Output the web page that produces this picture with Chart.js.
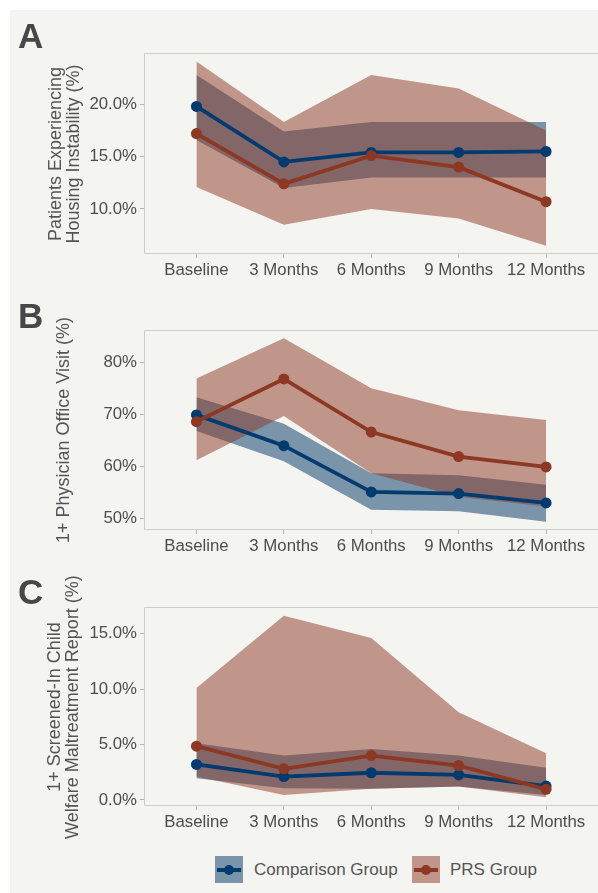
<!DOCTYPE html>
<html>
<head>
<meta charset="utf-8">
<script src="https://cdn.jsdelivr.net/npm/chart.js@4.4.1/dist/chart.umd.min.js"></script>
<style>
  html, body { margin:0; padding:0; width:598px; height:893px; overflow:hidden; background:#ffffff;
    font-family:"Liberation Sans", Arial, Helvetica, sans-serif; }
  #sheet { position:absolute; left:10px; top:10px; width:588px; height:883px; background:#f4f4f1; }
  canvas { position:absolute; left:10px; }
  .tag { position:absolute; left:18px; font-weight:bold; font-size:35px; line-height:35px; color:#474747; }
  .ytitle { position:absolute; transform:translate(-50%,-50%) rotate(-90deg); white-space:nowrap;
    text-align:center; font-size:18px; line-height:18px; color:#555555; }
  .key { position:absolute; top:856px; width:28px; height:27px; }
  .key i { position:absolute; left:2px; right:2px; top:11.5px; height:4.5px; }
  .key b { position:absolute; left:9px; top:9px; width:10px; height:10px; border-radius:50%; }
  .ltxt { position:absolute; top:859px; font-size:17px; line-height:22px; color:#555555; white-space:nowrap; }
</style>
</head>
<body>
<div id="sheet"></div>

<canvas id="chartA" width="594" height="274" style="top:10px"></canvas>
<canvas id="chartB" width="594" height="273" style="top:287px"></canvas>
<canvas id="chartC" width="594" height="272" style="top:564px"></canvas>

<div class="tag" style="top:18px">A</div>
<div class="tag" style="top:298px">B</div>
<div class="tag" style="top:574px">C</div>

<div class="ytitle" style="left:63.5px; top:153.5px">Patients Experiencing<br>Housing Instability (%)</div>
<div class="ytitle" style="left:62.5px; top:430px">1+ Physician Office Visit (%)</div>
<div class="ytitle" style="left:63px; top:706.5px">1+ Screened-In Child<br>Welfare Maltreatment Report (%)</div>

<div class="key" style="left:215px; background:rgba(0,52,100,0.5)"><i style="background:#003b6f"></i><b style="background:#003b6f"></b></div>
<div class="ltxt" style="left:254px">Comparison Group</div>
<div class="key" style="left:412px; background:rgba(140,56,35,0.5)"><i style="background:#8c3823"></i><b style="background:#8c3823"></b></div>
<div class="ltxt" style="left:450px">PRS Group</div>

<script>
// Follow-up time points
const categories = ['Baseline', '3 Months', '6 Months', '9 Months', '12 Months'];

// Panel A: patients experiencing housing instability (%)
const housingComparison     = [19.8, 14.5, 15.4, 15.4, 15.5];
const housingComparisonLow  = [16.6, 12.0, 13.0, 13.0, 13.0];
const housingComparisonHigh = [22.8, 17.4, 18.3, 18.3, 18.3];
const housingPrs            = [17.2, 12.4, 15.1, 14.0, 10.7];
const housingPrsLow         = [12.1, 8.5, 10.0, 9.1, 6.5];
const housingPrsHigh        = [24.1, 18.3, 22.8, 21.5, 17.5];
const housingTicks          = [10, 15, 20];

// Panel B: 1+ physician office visit (%)
const visitComparison     = [69.9, 64.0, 55.1, 54.8, 53.0];
const visitComparisonLow  = [66.8, 61.0, 51.7, 51.4, 49.4];
const visitComparisonHigh = [73.3, 68.2, 58.7, 58.3, 56.5];
const visitPrs            = [68.6, 76.8, 66.6, 61.9, 59.9];
const visitPrsLow         = [61.2, 69.7, 58.7, 54.2, 52.3];
const visitPrsHigh        = [76.9, 84.6, 75.0, 70.8, 68.9];
const visitTicks          = [50, 60, 70, 80];

// Panel C: 1+ screened-in child welfare maltreatment report (%)
const reportComparison     = [3.2, 2.1, 2.45, 2.25, 1.25];
const reportComparisonLow  = [1.95, 1.05, 1.0, 1.2, 0.45];
const reportComparisonHigh = [5.1, 4.0, 4.6, 4.0, 2.9];
const reportPrs            = [4.85, 2.8, 4.0, 3.1, 0.95];
const reportPrsLow         = [2.1, 0.45, 1.0, 1.2, 0.25];
const reportPrsHigh        = [10.1, 16.6, 14.6, 7.9, 4.2];
const reportTicks          = [0, 5, 10, 15];

const FONT = '"Liberation Sans", Arial, Helvetica, sans-serif';
const BLUE = '#003b6f', RED = '#8c3823';
const BLUE_FILL = 'rgba(0,52,100,0.5)', RED_FILL = 'rgba(140,56,35,0.5)';
const TICK_TEXT = '#4d4d4d', TICK_MARK = '#b3b3b3', FRAME = '#cccccc';

Chart.defaults.font.family = FONT;

const toPoints = arr => arr.map((v, i) => ({ x: i, y: v }));

// Light frame on the top, left and bottom of each plot panel
const panelFrame = {
  id: 'panelFrame',
  beforeDatasetsDraw(chart) {
    const { ctx, chartArea: a } = chart;
    const l = Math.round(a.left) + 0.5, t = Math.round(a.top) + 0.5, b = Math.round(a.bottom) - 0.5;
    ctx.save();
    ctx.strokeStyle = FRAME;
    ctx.lineWidth = 1;
    ctx.beginPath();
    ctx.moveTo(a.right + 2, t); ctx.lineTo(l, t); ctx.lineTo(l, b); ctx.lineTo(a.right + 2, b);
    ctx.stroke();
    ctx.restore();
  }
};

function band(upper, lower, color) {
  const edge = { pointRadius: 0, borderWidth: 0, borderColor: 'rgba(0,0,0,0)', showLine: true, tension: 0 };
  return [
    Object.assign({ data: toPoints(upper), fill: '+1', backgroundColor: color }, edge),
    Object.assign({ data: toPoints(lower), fill: false, backgroundColor: color }, edge)
  ];
}

function line(values, color) {
  return {
    data: toPoints(values), fill: false, borderColor: color, backgroundColor: color,
    borderWidth: 3.8, pointRadius: 5.5, pointHoverRadius: 5.5, pointBorderWidth: 0,
    pointBackgroundColor: color, tension: 0
  };
}

function drawPanel(id, yMin, yMax, yTicks, fmt, comp, compLow, compHigh, prs, prsLow, prsHigh) {
  const tickFont = { family: FONT, size: 16.8 };
  const grid = { drawOnChartArea: false, drawTicks: true, tickLength: 4, tickColor: TICK_MARK, lineWidth: 1 };
  new Chart(document.getElementById(id), {
    type: 'line',
    data: {
      // later datasets are drawn first: comparison band, PRS band, comparison line, PRS line
      datasets: [
        line(prs, RED),
        line(comp, BLUE),
        ...band(prsHigh, prsLow, RED_FILL),
        ...band(compHigh, compLow, BLUE_FILL)
      ]
    },
    options: {
      responsive: false,
      animation: false,
      devicePixelRatio: 1,
      layout: { padding: { top: 43, left: 0, right: 0, bottom: 0 } },
      plugins: {
        legend: { display: false },
        tooltip: { enabled: false },
        filler: { drawTime: 'beforeDatasetsDraw' }
      },
      scales: {
        x: {
          type: 'linear', min: -0.6, max: 4.6,
          afterBuildTicks: s => { s.ticks = categories.map((c, i) => ({ value: i })); },
          afterFit: s => { s.height = 30; },
          ticks: { callback: v => categories[v], autoSkip: false, maxRotation: 0,
                   color: TICK_TEXT, font: tickFont, padding: 2 },
          grid: grid,
          border: { display: false }
        },
        y: {
          type: 'linear', min: yMin, max: yMax,
          afterBuildTicks: s => { s.ticks = yTicks.map(v => ({ value: v })); },
          afterFit: s => { s.width = 134; },
          ticks: { callback: fmt, color: TICK_TEXT, font: tickFont, padding: 3 },
          grid: grid,
          border: { display: false }
        }
      }
    },
    plugins: [panelFrame]
  });
}

drawPanel('chartA', 5.7, 24.9, housingTicks, v => v.toFixed(1) + '%',
  housingComparison, housingComparisonLow, housingComparisonHigh,
  housingPrs, housingPrsLow, housingPrsHigh);

drawPanel('chartB', 47.8, 86.2, visitTicks, v => v + '%',
  visitComparison, visitComparisonLow, visitComparisonHigh,
  visitPrs, visitPrsLow, visitPrsHigh);

drawPanel('chartC', -0.55, 17.4, reportTicks, v => v.toFixed(1) + '%',
  reportComparison, reportComparisonLow, reportComparisonHigh,
  reportPrs, reportPrsLow, reportPrsHigh);
</script>
</body>
</html>
